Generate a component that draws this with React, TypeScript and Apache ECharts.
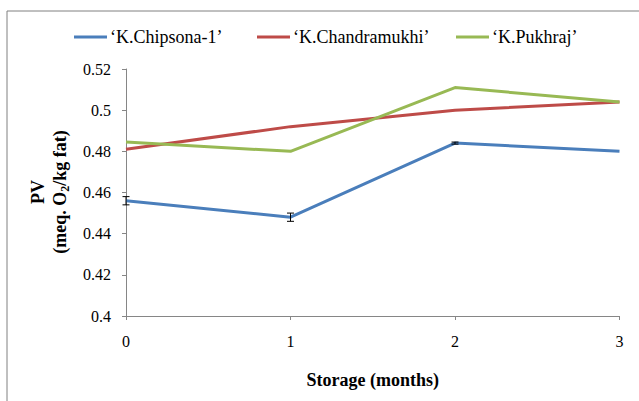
import React, { useEffect, useRef } from "react";
import * as echarts from "echarts";

const months = [0, 1, 2, 3];
const chipsona = [0.456, 0.448, 0.484, 0.48];
const chipsonaErr = [0.002, 0.002, 0.0005, 0];
const chandramukhi = [0.481, 0.492, 0.5, 0.504];
const pukhraj = [0.4845, 0.48, 0.511, 0.504];
const seriesNames = ["\u2018K.Chipsona-1\u2019", "\u2018K.Chandramukhi\u2019", "\u2018K.Pukhraj\u2019"];
const colors = ["#4a7ebb", "#be4b48", "#98b954"];

const FONT = "Liberation Serif";

export default function App() {
  const ref = useRef<HTMLDivElement>(null);
  useEffect(() => {
    if (!ref.current) return;
    const chart = echarts.init(ref.current, undefined, { renderer: "svg" });
    const toPairs = (arr: number[]) => arr.map((v, i) => [months[i], v]);
    const errData = chipsona
      .map((v, i) => [months[i], v - chipsonaErr[i], v + chipsonaErr[i], chipsonaErr[i]])
      .filter((d) => d[3] > 0);
    const legendLefts = [74, 257, 456];
    const legends = seriesNames.map((n, i) => ({
      top: 28,
      left: legendLefts[i],
      padding: 0,
      itemWidth: 33,
      itemHeight: 3,
      itemGap: 0,
      icon: "rect",
      textStyle: { fontFamily: FONT, fontSize: 18, color: "#000", padding: [0, 0, 0, -2] },
      data: [n],
    }));
    chart.setOption({
      animation: false,
      backgroundColor: "#ffffff",
      textStyle: { fontFamily: FONT },
      legend: legends,
      grid: { left: 126, right: 19.5, top: 69, bottom: 85 },
      xAxis: {
        type: "value",
        min: 0,
        max: 3,
        interval: 1,
        splitLine: { show: false },
        axisLine: { show: true, lineStyle: { color: "#868686", width: 1 } },
        axisTick: { show: true, length: 4, lineStyle: { color: "#868686" } },
        axisLabel: { fontFamily: FONT, fontSize: 16, color: "#000", margin: 17 },
        name: "Storage (months)",
        nameLocation: "middle",
        nameGap: 55,
        nameTextStyle: { fontFamily: FONT, fontSize: 18, fontWeight: "bold", color: "#000" },
      },
      yAxis: {
        type: "value",
        min: 0.4,
        max: 0.52,
        interval: 0.02,
        splitLine: { show: false },
        axisLine: { show: true, lineStyle: { color: "#868686", width: 1 } },
        axisTick: { show: true, length: 4, lineStyle: { color: "#868686" } },
        axisLabel: { fontFamily: FONT, fontSize: 16, color: "#000", margin: 15 },
      },
      graphic: [
        { type: "line", shape: { x1: 7, y1: 11, x2: 639, y2: 11 }, style: { stroke: "#808080", lineWidth: 1 } },
        { type: "line", shape: { x1: 7, y1: 11, x2: 7, y2: 401 }, style: { stroke: "#808080", lineWidth: 1 } },
        {
          type: "text",
          x: 49,
          y: 192,
          rotation: Math.PI / 2,
          style: {
            text: "{b|PV}\n{b|(meq. O}{s|2}{b|/kg fat)}",
            align: "center",
            verticalAlign: "middle",
            fill: "#000",
            rich: {
              b: { fontFamily: FONT, fontSize: 18, fontWeight: "bold", lineHeight: 22, fill: "#000" },
              s: { fontFamily: FONT, fontSize: 12, fontWeight: "bold", lineHeight: 22, verticalAlign: "bottom", padding: [7, 0, 0, 0], fill: "#000" },
            },
          },
        },
      ],
      series: [
        {
          name: seriesNames[0],
          type: "line",
          data: toPairs(chipsona),
          showSymbol: false,
          symbol: "none",
          lineStyle: { color: colors[0], width: 3 },
          itemStyle: { color: colors[0] },
          z: 3,
        },
        {
          name: seriesNames[1],
          type: "line",
          data: toPairs(chandramukhi),
          showSymbol: false,
          symbol: "none",
          lineStyle: { color: colors[1], width: 3 },
          itemStyle: { color: colors[1] },
          z: 2,
        },
        {
          name: seriesNames[2],
          type: "line",
          data: toPairs(pukhraj),
          showSymbol: false,
          symbol: "none",
          lineStyle: { color: colors[2], width: 3 },
          itemStyle: { color: colors[2] },
          z: 2,
        },
        {
          type: "custom",
          name: "err",
          data: errData,
          z: 4,
          renderItem: (params: any, api: any) => {
            const x = api.value(0);
            const lo = api.coord([x, api.value(1)]);
            const hi = api.coord([x, api.value(2)]);
            const w = 3.5;
            const st = { stroke: "#000", lineWidth: 1 };
            return {
              type: "group",
              children: [
                { type: "line", shape: { x1: lo[0], y1: lo[1], x2: hi[0], y2: hi[1] }, style: st },
                { type: "line", shape: { x1: lo[0] - w, y1: lo[1], x2: lo[0] + w, y2: lo[1] }, style: st },
                { type: "line", shape: { x1: hi[0] - w, y1: hi[1], x2: hi[0] + w, y2: hi[1] }, style: st },
              ],
            };
          },
        },
      ],
    });
    return () => chart.dispose();
  }, []);
  return <div ref={ref} style={{ width: 639, height: 401, position: "fixed", left: 0, top: 0 }} />;
}
